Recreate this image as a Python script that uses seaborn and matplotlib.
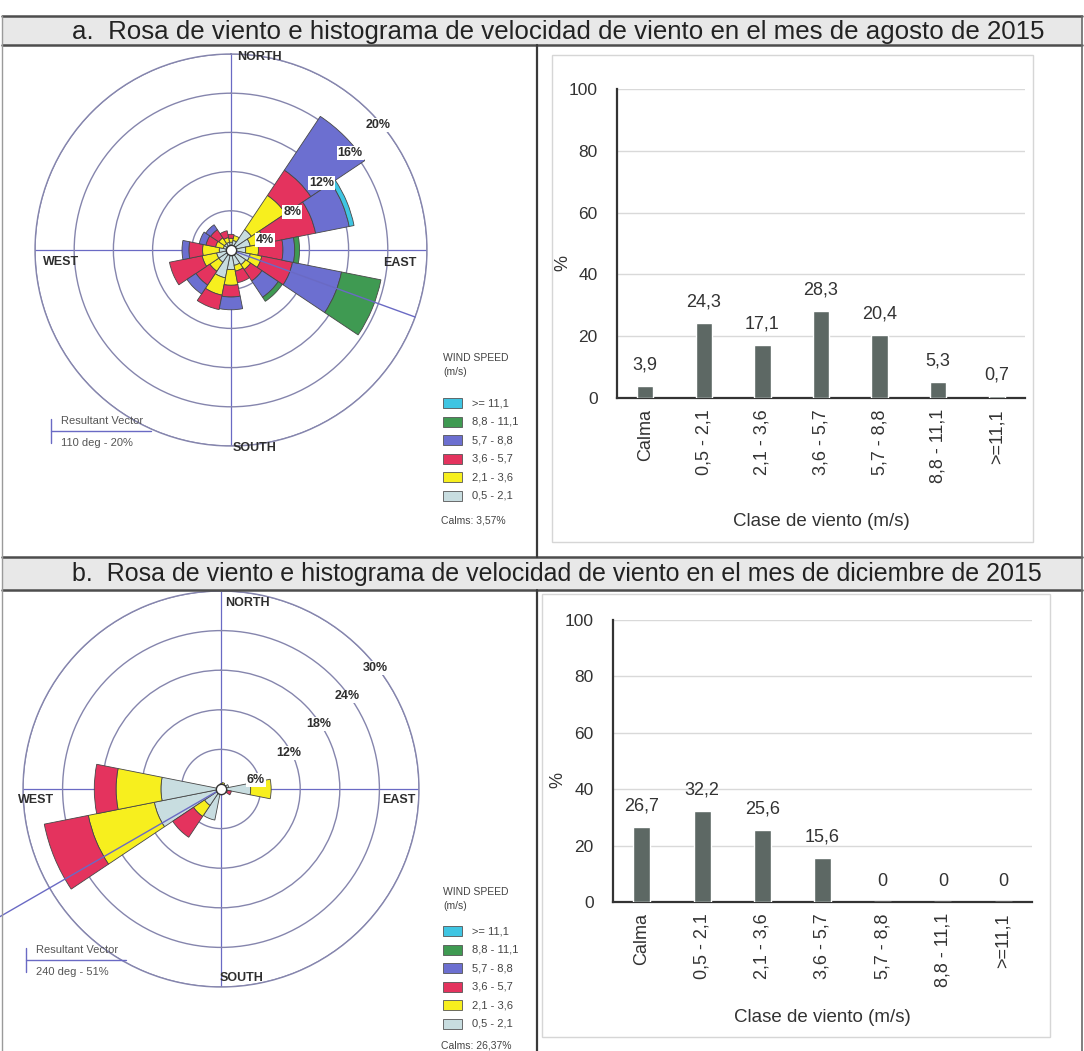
import numpy as np
import pandas as pd
import matplotlib
matplotlib.use("Agg")
import matplotlib.pyplot as plt
import seaborn as sns
from matplotlib.patches import Rectangle
from matplotlib.lines import Line2D

W, H, DPI = 1084, 1051, 100

sns.set_theme(style="white")
plt.rcParams["font.family"] = ["Liberation Sans", "DejaVu Sans"]

# ---------------------------------------------------------------- data
directions = ["N", "NNE", "NE", "ENE", "E", "ESE", "SE", "SSE",
              "S", "SSW", "SW", "WSW", "W", "WNW", "NW", "NNW"]
speed_bins = [">= 11,1", "8,8 - 11,1", "5,7 - 8,8", "3,6 - 5,7", "2,1 - 3,6", "0,5 - 2,1"]

# August 2015: frequency (%) per direction, one list per speed class
aug_05_21 = [0.8, 1.0, 2.5, 2.0, 1.5, 2.0, 1.8, 1.6, 2.0, 2.9, 1.5, 1.5, 1.2, 0.8, 0.8, 0.8]
aug_21_36 = [0.4, 0.5, 4.2, 1.5, 1.3, 1.2, 0.6, 0.6, 1.6, 1.8, 1.1, 1.5, 1.7, 0.8, 0.7, 0.5]
aug_36_57 = [0.4, 0.0, 3.1, 5.3, 2.5, 3.2, 1.4, 1.2, 1.2, 1.5, 1.7, 3.4, 1.4, 1.0, 1.0, 0.7]
aug_57_88 = [0.0, 0.0, 6.6, 3.5, 1.2, 5.1, 2.0, 0.0, 1.3, 0.0, 1.1, 0.0, 0.7, 0.7, 0.6, 0.0]
aug_88_111 = [0.0, 0.0, 0.0, 0.0, 0.5, 4.1, 0.5, 0.0, 0.0, 0.0, 0.0, 0.0, 0.0, 0.0, 0.0, 0.0]
aug_111 = [0.0, 0.0, 0.0, 0.5, 0.0, 0.0, 0.0, 0.0, 0.0, 0.0, 0.0, 0.0, 0.0, 0.0, 0.0, 0.0]

# December 2015
dec_05_21 = [0.5, 0.6, 0.8, 1.2, 4.5, 0.8, 0.5, 0.5, 0.5, 4.8, 3.0, 10.3, 9.1, 0.6, 0.4, 0.4]
dec_21_36 = [0.3, 0.4, 0.0, 0.0, 3.1, 0.2, 0.0, 0.0, 0.0, 0.0, 2.0, 10.2, 6.8, 0.0, 0.0, 0.0]
dec_36_57 = [0.0, 0.0, 0.0, 0.0, 0.0, 0.6, 0.0, 0.0, 0.0, 0.0, 3.8, 6.8, 3.3, 0.0, 0.0, 0.0]
dec_57_88 = [0.0] * 16
dec_88_111 = [0.0] * 16
dec_111 = [0.0] * 16

aug_calms = "3,57%"
dec_calms = "26,37%"
aug_vector_deg, aug_vector_pct = 110, 20
dec_vector_deg, dec_vector_pct = 240, 51

wind_classes = ["Calma", "0,5 - 2,1", "2,1 - 3,6", "3,6 - 5,7",
                "5,7 - 8,8", "8,8 - 11,1", ">=11,1"]
aug_hist = [3.9, 24.3, 17.1, 28.3, 20.4, 5.3, 0.7]
dec_hist = [26.7, 32.2, 25.6, 15.6, 0, 0, 0]

title_a = "a.  Rosa de viento e histograma de velocidad de viento en el mes de agosto de 2015"
title_b = "b.  Rosa de viento e histograma de velocidad de viento en el mes de diciembre de 2015"

# ---------------------------------------------------------------- styles
class_colors = ["#c8dde0", "#f7ef1e", "#e4335e", "#6c6fd0", "#3f9a52", "#3fc5e2"]  # slow -> fast
ring_color = "#8585ad"
axis_color = "#6a6ac4"
bar_color = "#5d6864"
text_dark = "#2e2e2e"

fig = plt.figure(figsize=(W / DPI, H / DPI), dpi=DPI)
fig.patch.set_facecolor("white")


def fx(x):
    return x / W


def fy(y):
    return 1 - y / H


def px_rect(x0, y0, x1, y1):
    return [fx(x0), fy(y1), (x1 - x0) / W, (y1 - y0) / H]


def fig_line(xs, ys, **kw):
    fig.add_artist(Line2D([fx(x) for x in xs], [fy(y) for y in ys],
                          transform=fig.transFigure, **kw))


# ---------------------------------------------------------------- table frame
def header(y0, y1, text):
    fig.add_artist(Rectangle((fx(2), fy(y1)), (1080) / W, (y1 - y0) / H,
                             transform=fig.transFigure, facecolor="#e8e8e8",
                             edgecolor="none", zorder=0))
    fig_line([2, 1082], [y0, y0], color="#4d4d4d", lw=1.8)
    fig_line([2, 1082], [y1, y1], color="#4d4d4d", lw=1.8)
    t = fig.text(fx(72), fy((y0 + y1) / 2 + 1), text, ha="left", va="center",
                 fontsize=15, color="#222222",
                 family=["Liberation Sans Narrow", "Liberation Sans", "DejaVu Sans"])
    return t


titles = [header(16, 45, title_a), header(557, 590, title_b)]
fig_line([537, 537], [45, 557], color="#3a3a3a", lw=1.6)
fig_line([537, 537], [590, 1051], color="#3a3a3a", lw=1.6)
fig_line([2, 2], [16, 1051], color="#9a9a9a", lw=1.0)
fig_line([1082, 1082], [16, 1051], color="#6a6a6a", lw=1.2)

# light frames around the histograms
for (x0, y0, x1, y1) in [(552, 55, 1033, 542), (542, 594, 1050, 1037)]:
    fig.add_artist(Rectangle((fx(x0), fy(y1)), (x1 - x0) / W, (y1 - y0) / H,
                             transform=fig.transFigure, facecolor="none",
                             edgecolor="#d6d6d6", lw=1.0))


# ---------------------------------------------------------------- wind roses
def wind_rose(cx, cy, R, step, layers, vec_deg, vec_pct, lab_angles, lab_fracs):
    ax = fig.add_axes(px_rect(cx - R, cy - R, cx + R, cy + R), projection="polar")
    ax.set_theta_zero_location("N")
    ax.set_theta_direction(-1)
    ax.set_facecolor("none")
    rmax = 5 * step
    theta = np.radians(np.arange(len(directions)) * 22.5)
    width = np.radians(22.5)
    bottom = np.zeros(len(directions))
    for vals, col in zip(layers, class_colors):
        vals = np.asarray(vals, dtype=float)
        m = vals > 0
        if m.any():
            ax.bar(theta[m], vals[m], width=width, bottom=bottom[m], color=col,
                   edgecolor="#474747", linewidth=0.6, zorder=3)
        bottom += vals
    ax.set_rlim(0, rmax)
    ax.set_rticks([step * i for i in range(1, 6)])
    ax.set_yticklabels([])
    ax.set_xticks(np.radians([0, 90, 180, 270]))
    ax.set_xticklabels([])
    ax.yaxis.grid(True, color=ring_color, lw=1.0)
    ax.xaxis.grid(True, color=axis_color, lw=0.9)
    ax.spines["polar"].set_edgecolor(ring_color)
    ax.spines["polar"].set_linewidth(1.0)
    ax.tick_params(length=0, pad=0)
    # resultant vector
    ax.plot([np.radians(vec_deg)] * 2, [0, vec_pct], color=axis_color, lw=1.0,
            zorder=4, clip_on=False)
    # calm circle
    ax.scatter([0], [0], s=55, facecolor="white", edgecolor="#333333",
               linewidth=1.0, zorder=6, clip_on=False)
    # ring labels
    for i, (ang, frac) in enumerate(zip(lab_angles, lab_fracs)):
        v = step * (i + 1)
        ax.text(np.radians(ang), v * frac, f"{v}%", ha="center", va="center",
                fontsize=9, fontweight="bold", color=text_dark, zorder=7,
                bbox=dict(facecolor="white", edgecolor="none", pad=0.6))
    return ax


wind_rose(231, 250, 196, 4,
          [aug_05_21, aug_21_36, aug_36_57, aug_57_88, aug_88_111, aug_111],
          aug_vector_deg, aug_vector_pct,
          [73.6, 58, 53.6, 50.8, 49.6], [0.9, 0.92, 0.96, 0.98, 0.985])
wind_rose(221, 789, 198, 6,
          [dec_05_21, dec_21_36, dec_36_57, dec_57_88, dec_88_111, dec_111],
          dec_vector_deg, dec_vector_pct,
          [75.6, 62.1, 56.4, 53.8, 52.0], [0.91, 0.97, 0.99, 0.99, 0.99])


def compass(points):
    for name, (x, y) in points.items():
        fig.text(fx(x), fy(y), name, ha="left", va="center", fontsize=9,
                 fontweight="bold", color=text_dark)


compass({"NORTH": (237, 57), "SOUTH": (233, 448), "WEST": (43, 262), "EAST": (383, 263)})
compass({"NORTH": (225, 603), "SOUTH": (220, 978), "WEST": (18, 800), "EAST": (382, 800)})


def legend(y_title, y_first, y_calms, calms):
    fig.text(fx(443), fy(y_title), "WIND SPEED", fontsize=7.5, color="#444444",
             ha="left", va="center")
    fig.text(fx(443), fy(y_title + 14), "(m/s)", fontsize=7.5, color="#444444",
             ha="left", va="center")
    colors_fast_first = class_colors[::-1]
    for i, (lab, col) in enumerate(zip(speed_bins, colors_fast_first)):
        yc = y_first + i * 18.6
        fig.add_artist(Rectangle((fx(443), fy(yc + 5)), 19 / W, 10 / H,
                                 transform=fig.transFigure, facecolor=col,
                                 edgecolor="#555555", lw=0.6))
        fig.text(fx(472), fy(yc), lab, fontsize=8, color="#444444",
                 ha="left", va="center")
    fig.text(fx(441), fy(y_calms), f"Calms: {calms}", fontsize=7.5,
             color="#444444", ha="left", va="center")


legend(358, 403, 520, aug_calms)
legend(892, 931, 1046, dec_calms)


def vector_box(x_tick, y_line, deg, pct):
    fig.text(fx(x_tick + 10), fy(y_line - 10), "Resultant Vector", fontsize=8,
             color="#555555", ha="left", va="center")
    fig.text(fx(x_tick + 10), fy(y_line + 12), f"{deg} deg - {pct}%", fontsize=8,
             color="#555555", ha="left", va="center")
    fig_line([x_tick, x_tick + 100], [y_line, y_line], color=axis_color, lw=1.0)
    fig_line([x_tick, x_tick], [y_line - 12, y_line + 12], color=axis_color, lw=1.0)


vector_box(51, 431, aug_vector_deg, aug_vector_pct)
vector_box(26, 960, dec_vector_deg, dec_vector_pct)


# ---------------------------------------------------------------- histograms
def fmt(v):
    return "0" if v == 0 else f"{v:.1f}".replace(".", ",")


def histogram(x0, y_top, x1, y_zero, values, ylab_xy, xlab_y):
    ax = fig.add_axes(px_rect(x0, y_top, x1, y_zero))
    df = pd.DataFrame({"clase": wind_classes, "pct": values})
    sns.barplot(data=df, x="clase", y="pct", color=bar_color, saturation=1,
                width=0.28, ax=ax, zorder=3)
    ax.set_ylim(0, 100)
    ax.set_xlim(-0.48, 6.48)
    ax.set_yticks(range(0, 101, 20))
    ax.yaxis.grid(True, color="#d9d9d9", lw=1.0)
    ax.set_axisbelow(True)
    ax.set_facecolor("none")
    for s in ["top", "right"]:
        ax.spines[s].set_visible(False)
    for s in ["left", "bottom"]:
        ax.spines[s].set_color("#333333")
        ax.spines[s].set_linewidth(1.6)
    ax.tick_params(axis="x", labelsize=13, pad=8, length=0, colors="#333333")
    ax.tick_params(axis="y", labelsize=12.5, pad=14, length=0, colors="#333333")
    for lab in ax.get_xticklabels():
        lab.set_rotation(90)
    ax.bar_label(ax.containers[0], labels=[fmt(v) for v in values], padding=9,
                 fontsize=13, color="#333333")
    ax.set_xlabel("Clase de viento (m/s)", fontsize=13.5, color="#333333")
    ax.set_ylabel("%", fontsize=13, color="#333333")
    hpx = y_zero - y_top
    wpx = x1 - x0
    ax.xaxis.set_label_coords(0.5, -(xlab_y - y_zero) / hpx)
    ax.xaxis.label.set_va("center")
    ax.yaxis.set_label_coords((ylab_xy[0] - x0) / wpx, 1 - (ylab_xy[1] - y_top) / hpx)
    ax.yaxis.label.set_va("center")
    return ax


histogram(617, 89, 1025, 398, aug_hist, (563, 263), 522)
histogram(613, 620, 1032, 902, dec_hist, (558, 780), 1017)

# fit the header titles to the width of their band
fig.canvas.draw()
renderer = fig.canvas.get_renderer()
for t in titles:
    w = t.get_window_extent(renderer).width
    t.set_fontsize(t.get_fontsize() * 975 / w)

fig.savefig("out.png", dpi=DPI, facecolor="white")
